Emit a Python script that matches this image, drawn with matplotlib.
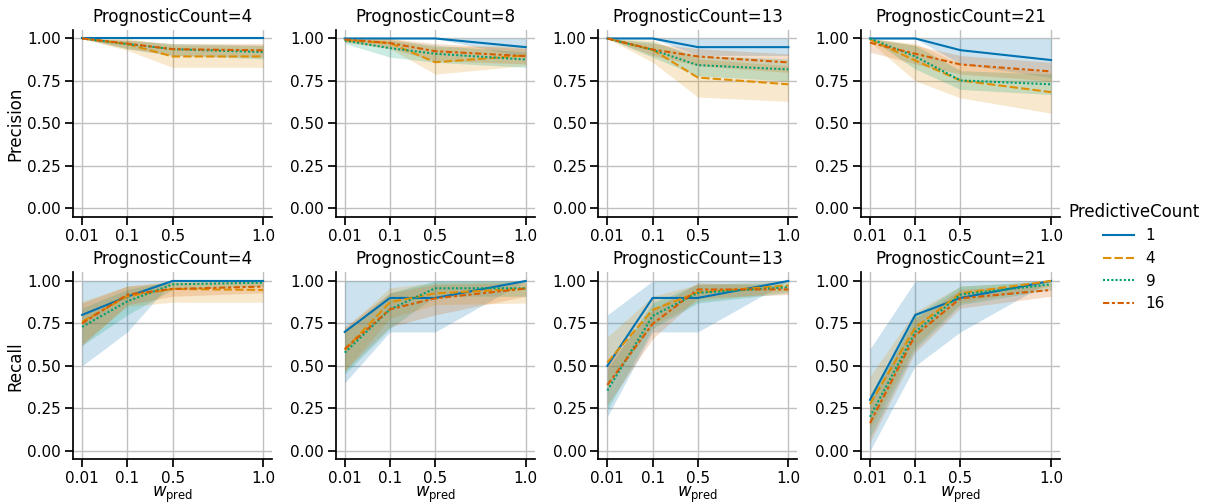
import numpy as np
import matplotlib.pyplot as plt
from matplotlib.lines import Line2D

# weights of the predictive term and where they sit on the x axis
w_pred = ["0.01", "0.1", "0.5", "1.0"]
x_pos = [0, 1, 2, 4]

prognostic_counts = [4, 8, 13, 21]
predictive_counts = [1, 4, 9, 16]

# arrays indexed [prognostic, predictive, w_pred]
precision_mean = np.array([
    [[1, 1, 1, 1], [1, .967, .894, .894], [1, .967, .937, .92], [1, .97, .937, .93]],
    [[1, 1, 1, .949], [.99, .973, .86, .90], [.988, .943, .91, .876], [.994, .973, .925, .896]],
    [[1, 1, .949, .949], [1, .933, .77, .73], [1, .933, .843, .818], [1, .935, .894, .859]],
    [[1, 1, .931, .873], [.994, .87, .753, .684], [1, .894, .753, .73], [.975, .91, .847, .806]],
])
precision_lo = np.array([
    [[1, 1, 1, 1], [1, .93, .83, .83], [1, .94, .90, .88], [1, .94, .90, .89]],
    [[1, 1, 1, .89], [.98, .94, .79, .84], [.97, .89, .86, .83], [.98, .94, .87, .85]],
    [[1, 1, .90, .90], [1, .86, .655, .63], [1, .89, .78, .75], [1, .90, .84, .80]],
    [[1, 1, .85, .77], [.98, .75, .65, .56], [1, .82, .70, .67], [.92, .85, .79, .75]],
])
precision_hi = np.array([
    [[1, 1, 1, 1], [1, 1, .96, .96], [1, .99, .97, .96], [1, .99, .97, .97]],
    [[1, 1, 1, 1], [1, 1, .95, .96], [1, .99, .96, .92], [1, 1, .97, .94]],
    [[1, 1, 1, 1], [1, .99, .88, .84], [1, .98, .90, .88], [1, .97, .94, .91]],
    [[1, 1, 1, 1], [1, .97, .85, .80], [1, .96, .81, .79], [1, .96, .90, .86]],
])

recall_mean = np.array([
    [[.80, .908, 1, 1], [.76, .91, .953, .947], [.73, .88, .98, .99], [.75, .92, .953, .967]],
    [[.70, .90, .90, 1], [.594, .875, .927, .955], [.578, .833, .957, .957], [.60, .833, .898, .955]],
    [[.50, .90, .90, 1], [.52, .83, .933, .973], [.355, .794, .93, .963], [.388, .747, .95, .95]],
    [[.30, .80, .90, 1], [.276, .725, .927, 1], [.20, .70, .92, .98], [.163, .68, .898, .947]],
])
recall_lo = np.array([
    [[.50, .70, 1, 1], [.63, .85, .875, .875], [.62, .80, .95, .97], [.62, .86, .91, .93]],
    [[.40, .70, .70, 1], [.47, .78, .86, .87], [.45, .72, .91, .91], [.47, .73, .80, .91]],
    [[.20, .70, .70, 1], [.38, .74, .88, .94], [.24, .72, .87, .93], [.27, .66, .90, .92]],
    [[0, .50, .70, 1], [.13, .62, .87, .97], [.08, .60, .86, .95], [.05, .58, .84, .91]],
])
recall_hi = np.array([
    [[1, 1, 1, 1], [.88, .97, 1, 1], [.84, .95, 1, 1], [.87, .97, .99, 1]],
    [[1, 1, 1, 1], [.72, .96, .99, 1], [.70, .93, 1, 1], [.73, .93, .98, .99]],
    [[.80, 1, 1, 1], [.67, .91, .98, 1], [.48, .87, .98, .99], [.51, .83, .99, .97]],
    [[.60, 1, 1, 1], [.44, .82, .97, 1], [.33, .80, .97, 1], [.29, .78, .95, .98]],
])

colors = ["#0173b2", "#de8f05", "#029e73", "#d55e00"]
dashes = [(None, None), (4, 1.5), (1, 1), (3, 1.25, 1.5, 1.25)]

plt.rcParams["font.family"] = "DejaVu Sans"

fig, axes = plt.subplots(2, 4, figsize=(12.09, 5.03), dpi=100, sharey=True)
fig.subplots_adjust(left=0.0604, right=0.8768, bottom=0.0869, top=0.9404,
                    wspace=0.319, hspace=0.298)

rows = [("Precision", precision_mean, precision_lo, precision_hi),
        ("Recall", recall_mean, recall_lo, recall_hi)]

for r, (metric, mean, lo, hi) in enumerate(rows):
    for c, pc in enumerate(prognostic_counts):
        ax = axes[r, c]
        for k in range(len(predictive_counts)):
            ax.fill_between(x_pos, lo[c, k], hi[c, k], color=colors[k],
                            alpha=0.2, linewidth=0)
            line, = ax.plot(x_pos, mean[c, k], color=colors[k], lw=1.5)
            if k > 0:
                line.set_dashes(dashes[k])
        ax.set_title(f"PrognosticCount={pc}", fontsize=12)
        ax.set_xticks(x_pos)
        ax.set_xticklabels(w_pred)
        ax.set_yticks([0, 0.25, 0.5, 0.75, 1.0])
        ax.set_ylim(-0.05, 1.05)
        ax.grid(True, color="#c0c0c0", linewidth=1)
        ax.set_axisbelow(True)
        for side in ("top", "right"):
            ax.spines[side].set_visible(False)
        for side in ("left", "bottom"):
            ax.spines[side].set_linewidth(1.25)
        ax.tick_params(labelsize=11, length=6, width=1.25, pad=2.5, labelleft=True)
        if c == 0:
            ax.set_ylabel(metric, fontsize=12, labelpad=2)
        if r == 1:
            ax.set_xlabel(r"$w_\mathrm{pred}$", fontsize=12, labelpad=-1)

handles = []
for k, p in enumerate(predictive_counts):
    h = Line2D([], [], color=colors[k], lw=1.5)
    if k > 0:
        h.set_dashes(dashes[k])
    handles.append(h)
leg = fig.legend(handles, [str(p) for p in predictive_counts], title="PredictiveCount",
                 loc="center", bbox_to_anchor=(0.938, 0.489), frameon=False,
                 fontsize=11, title_fontsize=12)

fig.savefig("out.png", dpi=100)
